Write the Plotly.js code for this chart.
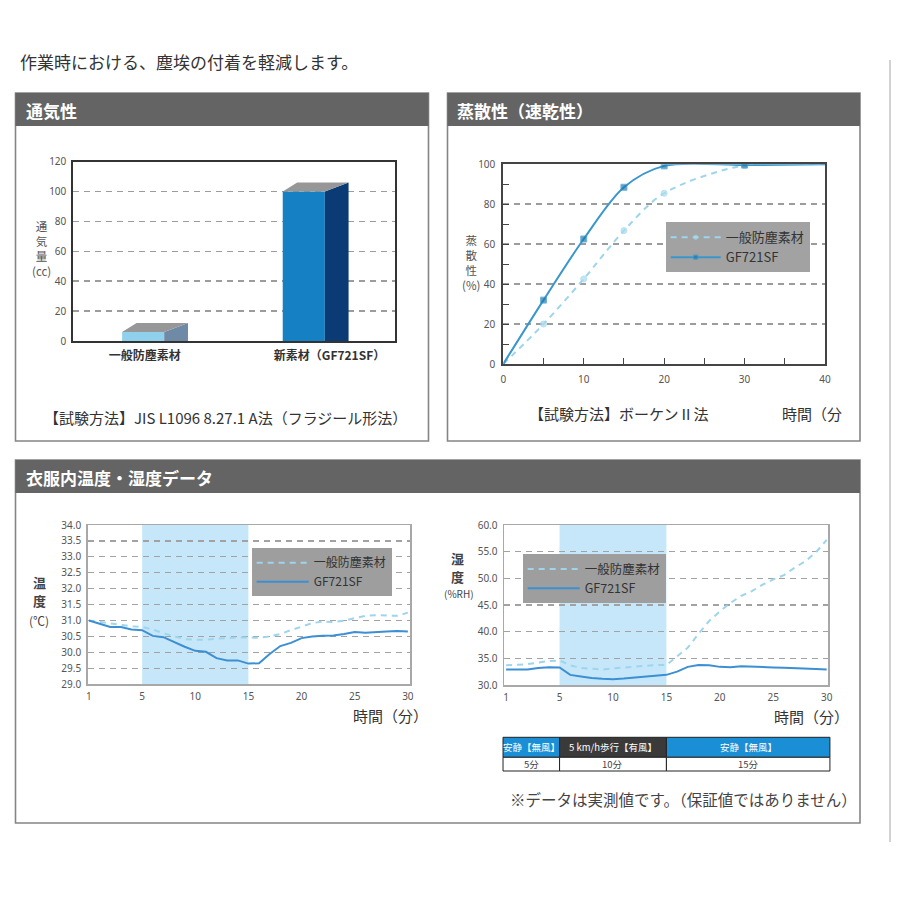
<!DOCTYPE html>
<html><head><meta charset="utf-8">
<script src="https://cdn.plot.ly/plotly-3.0.1.min.js"></script>
<style>html,body{margin:0;padding:0;background:#fff;}#chart{width:900px;height:900px;}</style>
</head><body><div id="chart"></div>
<script>
// ---------- DATA ----------
const airCategories = ['一般防塵素材', '新素材（GF721SF）'];
const airValues = [6, 100];

const seriesNames = ['一般防塵素材', 'GF721SF'];

const evapTime = [0, 5, 10, 15, 20, 30, 40];
const evapGeneral = [0, 20, 42.6, 66.8, 85.5, 99.5, 100];
const evapGF = [0, 32, 62.6, 88.5, 99.2, 99.6, 100];

const clothTime = [0,1,2,3,4,5,6,7,8,9,10,11,12,13,14,15,16,17,18,19,20,21,22,23,24,25,26,27,28,29,30];
const tempGeneral = [31.0,30.95,30.9,30.85,30.82,30.8,30.72,30.6,30.5,30.42,30.4,30.4,30.43,30.46,30.47,30.47,30.46,30.5,30.58,30.7,30.8,30.92,30.97,30.95,31.0,31.08,31.15,31.17,31.15,31.15,31.25];
const tempGF = [31.0,30.9,30.8,30.8,30.72,30.7,30.52,30.48,30.32,30.18,30.05,30.02,29.82,29.75,29.75,29.65,29.66,29.95,30.2,30.3,30.45,30.5,30.52,30.53,30.58,30.64,30.62,30.65,30.66,30.67,30.66];
const humidGeneral = [33.7,33.8,33.9,34.2,34.5,34.6,33.7,33.2,33.0,32.9,33.1,33.25,33.4,33.6,33.75,33.75,35.3,37.0,39.6,42.0,43.8,45.4,46.7,47.6,48.8,49.8,50.6,52.0,53.2,54.9,57.2];
const humidGF = [32.9,32.85,32.9,33.2,33.35,33.3,31.9,31.6,31.3,31.15,31.1,31.2,31.35,31.5,31.7,31.9,32.5,33.4,33.75,33.7,33.4,33.35,33.5,33.4,33.3,33.3,33.25,33.2,33.1,33.0,32.9];
const timeTickVals = [0, 5, 10, 15, 20, 25, 30];
const timeTickText = ['1', '5', '10', '15', '20', '25', '30'];

const phaseLabels = ['安静【無風】', '5 km/h歩行【有風】', '安静【無風】'];
const phaseDurations = ['5分', '10分', '15分'];
const phaseStart = [0, 5, 15];
const phaseEnd = [5, 15, 30];

// ---------- STYLE / LAYOUT HELPERS ----------
const W = 900, H = 900;
const px = v => v / W;
const py = v => 1 - v / H;
const JP = '"Noto Sans CJK JP","Noto Sans",sans-serif';

const barW = 0.262, depthX = 0.148, depthXL = 0.09, depthY = 6;
const frontColors = ['#8fd1ec', '#1581c4'];
const sideColors = ['#6f8aa7', '#0a3b74'];
const topColor = '#979797';
const airLabelShift = [0.01, 0.16];

const colGeneral = '#9dd5ec';
const colGF = '#3a97cc';
const colGF2 = '#3b8fd2';
const shadeColor = '#c6e7f9';

const traces = [];
const airPos = airCategories.map((_, i) => i);

// chart 1: 3D bars
traces.push({type: 'bar', x: airPos, y: airValues, width: barW, marker: {color: frontColors, line: {width: 0}},
  xaxis: 'x', yaxis: 'y', showlegend: false, hoverinfo: 'skip'});
airPos.forEach((p, i) => {
  const x0 = p - barW / 2, x1 = p + barW / 2, v = airValues[i];
  traces.push({type: 'scatter', mode: 'lines', x: [x1, x1 + depthX, x1 + depthX, x1, x1], y: [0, 0, v + depthY, v, 0],
    fill: 'toself', fillcolor: sideColors[i], line: {width: 0, color: sideColors[i]}, xaxis: 'x', yaxis: 'y', showlegend: false, hoverinfo: 'skip'});
  traces.push({type: 'scatter', mode: 'lines', x: [x0, x1, x1 + depthX, x0 + depthXL, x0], y: [v, v, v + depthY, v + depthY, v],
    fill: 'toself', fillcolor: topColor, line: {width: 0, color: topColor}, xaxis: 'x', yaxis: 'y', showlegend: false, hoverinfo: 'skip'});
});

// chart 2: evaporation
const evapMarkerSize = evapTime.map((t, i) => (i === 0 || i === evapTime.length - 1) ? 0 : 6);
traces.push({type: 'scatter', mode: 'lines+markers', x: evapTime, y: evapGeneral, name: seriesNames[0],
  line: {color: colGeneral, width: 2, dash: '6px,5px', shape: 'spline', smoothing: 0.9},
  marker: {size: evapMarkerSize, color: '#a9dcf0', symbol: 'circle'}, xaxis: 'x2', yaxis: 'y2', legend: 'legend'});
traces.push({type: 'scatter', mode: 'lines+markers', x: evapTime, y: evapGF, name: seriesNames[1],
  line: {color: colGF, width: 2, shape: 'spline', smoothing: 0.9},
  marker: {size: evapMarkerSize, color: '#1f79ad', symbol: 'square'}, xaxis: 'x2', yaxis: 'y2', legend: 'legend'});

// chart 3: temperature
traces.push({type: 'scatter', mode: 'lines', x: clothTime, y: tempGeneral, name: seriesNames[0],
  line: {color: colGeneral, width: 2, dash: '6px,5px'}, xaxis: 'x3', yaxis: 'y3', legend: 'legend2'});
traces.push({type: 'scatter', mode: 'lines', x: clothTime, y: tempGF, name: seriesNames[1],
  line: {color: colGF2, width: 2}, xaxis: 'x3', yaxis: 'y3', legend: 'legend2'});

// chart 4: humidity
traces.push({type: 'scatter', mode: 'lines', x: clothTime, y: humidGeneral, name: seriesNames[0],
  line: {color: colGeneral, width: 2, dash: '6px,5px'}, xaxis: 'x4', yaxis: 'y4', legend: 'legend3'});
traces.push({type: 'scatter', mode: 'lines', x: clothTime, y: humidGF, name: seriesNames[1],
  line: {color: colGF2, width: 2}, xaxis: 'x4', yaxis: 'y4', legend: 'legend3'});

// ---------- SHAPES ----------
const shapes = [];
function rectPx(x0, y0, x1, y1, fill, lineColor, lw) {
  shapes.push({type: 'rect', xref: 'paper', yref: 'paper', x0: px(x0), x1: px(x1), y0: py(y0), y1: py(y1),
    fillcolor: fill || 'rgba(0,0,0,0)', line: {color: lineColor || 'rgba(0,0,0,0)', width: lw || 0}, layer: 'below'});
}
// panels
rectPx(15.5, 93, 428.5, 441, null, '#858585', 1.6);
rectPx(15.5, 93, 428.5, 126, '#646464');
rectPx(447.5, 93, 860, 441, null, '#858585', 1.6);
rectPx(447.5, 93, 860, 126, '#646464');
rectPx(15.5, 460, 860, 823, null, '#858585', 1.6);
rectPx(15.5, 460, 860, 493, '#646464');
// page separator
shapes.push({type: 'line', xref: 'paper', yref: 'paper', x0: px(890), x1: px(890), y0: py(60), y1: py(842), line: {color: '#d2d2d2', width: 2}});

// shaded walking period
[['x3', 'y3'], ['x4', 'y4']].forEach(([xa, ya]) => {
  shapes.push({type: 'rect', xref: xa, yref: ya + ' domain', x0: phaseStart[1], x1: phaseEnd[1], y0: 0, y1: 1,
    fillcolor: shadeColor, line: {width: 0}, layer: 'below'});
});

// table below humidity chart (aligned to its time axis)
const x4range = [-0.2, 30.15];
const toDom = x => (x - x4range[0]) / (x4range[1] - x4range[0]);
const headFill = ['#1b8fd6', '#3a3a3a', '#1b8fd6'];
const rowTop = 737.3, rowMid = 757.3, rowBot = 771;
const annotations = [];
phaseLabels.forEach((lab, i) => {
  const a = i === 0 ? -0.003 : toDom(phaseStart[i]);
  const b = i === phaseLabels.length - 1 ? 1.005 : toDom(phaseEnd[i]);
  shapes.push({type: 'rect', xref: 'x4 domain', yref: 'paper', x0: a, x1: b, y0: py(rowMid), y1: py(rowTop),
    fillcolor: headFill[i], line: {color: '#222', width: 1}});
  shapes.push({type: 'rect', xref: 'x4 domain', yref: 'paper', x0: a, x1: b, y0: py(rowBot), y1: py(rowMid),
    fillcolor: '#fff', line: {color: '#222', width: 1}});
  annotations.push({xref: 'x4 domain', yref: 'paper', x: (a + b) / 2, y: py((rowTop + rowMid) / 2), text: lab,
    showarrow: false, font: {family: JP, size: 9.5, color: '#fff'}, xanchor: 'center', yanchor: 'middle'});
  annotations.push({xref: 'x4 domain', yref: 'paper', x: (a + b) / 2, y: py((rowMid + rowBot) / 2), text: phaseDurations[i],
    showarrow: false, font: {family: JP, size: 9.5, color: '#444'}, xanchor: 'center', yanchor: 'middle'});
});

// ---------- ANNOTATIONS ----------
function txt(x, y, text, size, color, xanchor, extra) {
  annotations.push(Object.assign({xref: 'paper', yref: 'paper', x: px(x), y: py(y), text: text, showarrow: false,
    font: {family: JP, size: size, color: color}, xanchor: xanchor || 'left', yanchor: 'middle'}, extra || {}));
}
txt(18, 61, '作業時における、塵埃の付着を軽減します。', 17, '#333');
txt(24, 110, '<b>通気性</b>', 17, '#fff');
txt(455, 110, '<b>蒸散性（速乾性）</b>', 17, '#fff');
txt(24, 477, '<b>衣服内温度・湿度データ</b>', 17, '#fff');

txt(41, 248, '通<br>気<br>量<br>(cc)', 11.5, '#555', 'center', {align: 'center'});
txt(42, 417, '【試験方法】JIS L1096 8.27.1 A法（フラジール形法）', 15, '#333');

txt(471, 262, '蒸<br>散<br>性<br>(%)', 11.5, '#555', 'center', {align: 'center'});
txt(527, 413, '【試験方法】ボーケンⅡ法', 15, '#333');
txt(780, 413, '時間（分', 15, '#333');

// temperature axis title (stacked)
txt(39, 582, '<b>温</b>', 13, '#444', 'center');
txt(39, 600, '<b>度</b>', 13, '#444', 'center');
txt(39, 620, '(℃)', 12, '#444', 'center');
txt(390, 715, '時間（分）', 15, '#333', 'center');

// humidity axis title (stacked)
txt(457, 558, '<b>湿</b>', 13, '#444', 'center');
txt(457, 576, '<b>度</b>', 13, '#444', 'center');
txt(459, 593, '(%RH)', 10, '#444', 'center');
txt(811, 716, '時間（分）', 15, '#333', 'center');

txt(508, 799, '※データは実測値です。（保証値ではありません）', 15.5, '#444');

// ---------- AXES ----------
const gridDash = '6px,5px';
const tickFont = {family: '"Noto Sans","DejaVu Sans",sans-serif', size: 10, color: '#555'};
const frame = (c, w) => ({showline: true, mirror: true, linecolor: c, linewidth: w, zeroline: false});

const layout = {
  width: W, height: H, margin: {l: 0, r: 0, t: 0, b: 0},
  paper_bgcolor: '#fff', plot_bgcolor: 'rgba(0,0,0,0)',
  font: {family: JP, size: 10, color: '#555'},
  showlegend: true, hovermode: false,
  xaxis: Object.assign({anchor: 'y', domain: [px(73.3), px(395)], range: [-0.435, 1.568], showgrid: false,
    tickvals: airPos.map((p, i) => p + airLabelShift[i]), ticktext: airCategories.map(c => '<b>' + c + '</b>'),
    tickfont: {family: JP, size: 12, color: '#333'}, ticks: '', ticklabelstandoff: 3}, frame('#333', 2)),
  yaxis: Object.assign({anchor: 'x', domain: [py(341), py(161.7)], range: [0, 120], dtick: 20, showgrid: true,
    gridcolor: '#9c9c9c', griddash: gridDash, gridwidth: 1.5, tickfont: tickFont, ticks: '', ticklabelstandoff: 3}, frame('#333', 2)),

  xaxis2: Object.assign({anchor: 'y2', domain: [px(503.3), px(825)], range: [0, 40], dtick: 10, tick0: 0, showgrid: false,
    ticks: 'inside', ticklen: 6, tickcolor: '#444', tickwidth: 1,
    minor: {dtick: 5, ticks: 'inside', ticklen: 6, tickcolor: '#444', showgrid: false},
    tickfont: tickFont, ticklabelstandoff: 5}, frame('#444', 2)),
  yaxis2: Object.assign({anchor: 'x2', domain: [py(364), py(164.3)], range: [0, 100], dtick: 20, showgrid: true,
    gridcolor: '#9c9c9c', griddash: gridDash, gridwidth: 1.5,
    ticks: 'inside', ticklen: 6, tickcolor: '#444', tickwidth: 1,
    minor: {dtick: 10, ticks: 'inside', ticklen: 6, tickcolor: '#444', showgrid: false},
    tickfont: tickFont, ticklabelstandoff: 4}, frame('#444', 2)),

  xaxis3: Object.assign({anchor: 'y3', domain: [px(87.7), px(410)], range: [-0.12, 30.2], showgrid: false,
    tickvals: timeTickVals, ticktext: timeTickText, ticks: '', tickfont: tickFont, ticklabelstandoff: 2}, frame('#a8a8a8', 1.5)),
  yaxis3: Object.assign({anchor: 'x3', domain: [py(684.3), py(525)], range: [29, 34], dtick: 0.5, tickformat: '.1f', showgrid: true,
    gridcolor: '#a2a2a2', griddash: gridDash, gridwidth: 1.2, ticks: '', tickfont: tickFont, ticklabelstandoff: 3}, frame('#a8a8a8', 1.5)),

  xaxis4: Object.assign({anchor: 'y4', domain: [px(504), px(828.3)], range: x4range, showgrid: false,
    tickvals: timeTickVals, ticktext: timeTickText, ticks: '', tickfont: tickFont, ticklabelstandoff: 2}, frame('#a8a8a8', 1.5)),
  yaxis4: Object.assign({anchor: 'x4', domain: [py(685), py(525)], range: [30, 60], dtick: 5, tickformat: '.1f', showgrid: true,
    gridcolor: '#a2a2a2', griddash: gridDash, gridwidth: 1.2, ticks: '', tickfont: tickFont, ticklabelstandoff: 3}, frame('#a8a8a8', 1.5)),

  legend: {x: px(665.7), y: py(222.3), xanchor: 'left', yanchor: 'top', bgcolor: '#a2a2a2', borderwidth: 0,
    font: {family: JP, size: 13, color: '#333'}, itemwidth: 50, tracegroupgap: 0, traceorder: 'normal'},
  legend2: {x: px(251.7), y: py(548.3), xanchor: 'left', yanchor: 'top', bgcolor: '#9e9e9e', borderwidth: 0,
    font: {family: JP, size: 12, color: '#333'}, itemwidth: 52, tracegroupgap: 0, traceorder: 'normal'},
  legend3: {x: px(522.7), y: py(554.3), xanchor: 'left', yanchor: 'top', bgcolor: '#9e9e9e', borderwidth: 0,
    font: {family: JP, size: 12.5, color: '#333'}, itemwidth: 52, tracegroupgap: 0, traceorder: 'normal'},

  shapes: shapes,
  annotations: annotations
};

Plotly.newPlot('chart', traces, layout, {staticPlot: true, displayModeBar: false});
</script></body></html>
